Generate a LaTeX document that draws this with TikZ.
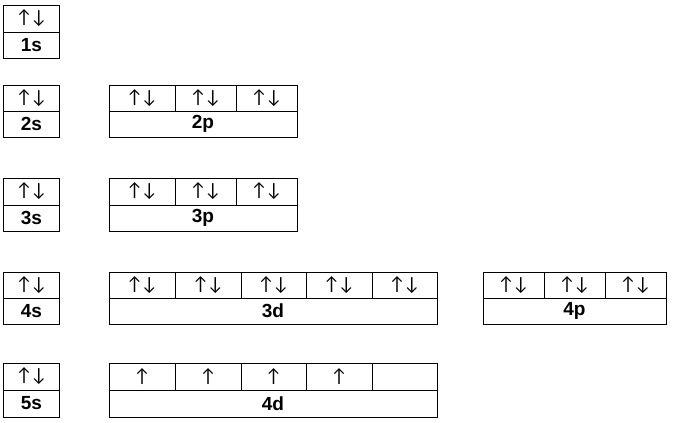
\documentclass[tikz,border=0pt]{standalone}
\usepackage{fontspec}
\setmainfont{Liberation Sans}
\newfontfamily\arrowfont{Lato}
\newcommand\ud{↑\kern1.5pt↓}
\begin{document}
\begin{tikzpicture}[x=1pt,y=-1pt,
  cell/.style={draw=black, line width=1pt, inner sep=0pt, outer sep=0pt, anchor=north west,
    font=\fontsize{18}{20}\arrowfont},
  lab/.style={draw=black, line width=1pt, inner sep=0pt, outer sep=0pt, anchor=north west,
    font=\fontsize{19}{20}\selectfont\bfseries}]
\useasboundingbox[fill=white] (0,0) rectangle (673,423);
% row 1
\node[cell, minimum width=56pt, minimum height=27pt] (s1) at (3.5,5) {\ud};
\node[lab, minimum width=56pt, minimum height=26pt] (s1l) at (3.5,32) {1s};
% row 2
\node[cell, minimum width=56pt, minimum height=26pt] (s2) at (3.5,85) {\ud};
\node[lab, minimum width=56pt, minimum height=26pt] (s2l) at (3.5,111) {2s};
\node[cell, minimum width=66pt, minimum height=26pt] (p2a) at (109,85) {\ud};
\node[cell, minimum width=61pt, minimum height=26pt] (p2b) at (175,85) {\ud};
\node[cell, minimum width=61pt, minimum height=26pt] (p2c) at (236,85) {\ud};
\node[lab, minimum width=188pt, minimum height=26pt] (p2l) at (109,111) {2p};
% row 3
\node[cell, minimum width=56pt, minimum height=27pt] (s3) at (3.5,178) {\ud};
\node[lab, minimum width=56pt, minimum height=26pt] (s3l) at (3.5,205) {3s};
\node[cell, minimum width=66pt, minimum height=27pt] (p3a) at (109,178) {\ud};
\node[cell, minimum width=61pt, minimum height=27pt] (p3b) at (175,178) {\ud};
\node[cell, minimum width=61pt, minimum height=27pt] (p3c) at (236,178) {\ud};
\node[lab, minimum width=188pt, minimum height=26pt] (p3l) at (109,205) {3p};
% row 4
\node[cell, minimum width=56pt, minimum height=26pt] (s4) at (3.5,272) {\ud};
\node[lab, minimum width=56pt, minimum height=26pt] (s4l) at (3.5,298) {4s};
\node[cell, minimum width=66pt, minimum height=26pt] (d3a) at (109,272) {\ud};
\node[cell, minimum width=66pt, minimum height=26pt] (d3b) at (175,272) {\ud};
\node[cell, minimum width=65pt, minimum height=26pt] (d3c) at (241,272) {\ud};
\node[cell, minimum width=66pt, minimum height=26pt] (d3d) at (306,272) {\ud};
\node[cell, minimum width=65pt, minimum height=26pt] (d3e) at (372,272) {\ud};
\node[lab, minimum width=328pt, minimum height=26pt] (d3l) at (109,298) {3d};
\node[cell, minimum width=61pt, minimum height=26pt] (p4a) at (483,272) {\ud};
\node[cell, minimum width=61pt, minimum height=26pt] (p4b) at (544,272) {\ud};
\node[cell, minimum width=61pt, minimum height=26pt] (p4c) at (605,272) {\ud};
\node[lab, minimum width=183pt, minimum height=26pt] (p4l) at (483,298) {4p};
% row 5
\node[cell, minimum width=56pt, minimum height=27pt] (s5) at (3.5,363) {\ud};
\node[lab, minimum width=56pt, minimum height=27pt] (s5l) at (3.5,390) {5s};
\node[cell, minimum width=66pt, minimum height=27pt] (d4a) at (109,363) {↑};
\node[cell, minimum width=66pt, minimum height=27pt] (d4b) at (175,363) {↑};
\node[cell, minimum width=65pt, minimum height=27pt] (d4c) at (241,363) {↑};
\node[cell, minimum width=66pt, minimum height=27pt] (d4d) at (306,363) {↑};
\node[cell, minimum width=65pt, minimum height=27pt] (d4e) at (372,363) {};
\node[lab, minimum width=328pt, minimum height=27pt] (d4l) at (109,390) {4d};
\end{tikzpicture}
\end{document}
